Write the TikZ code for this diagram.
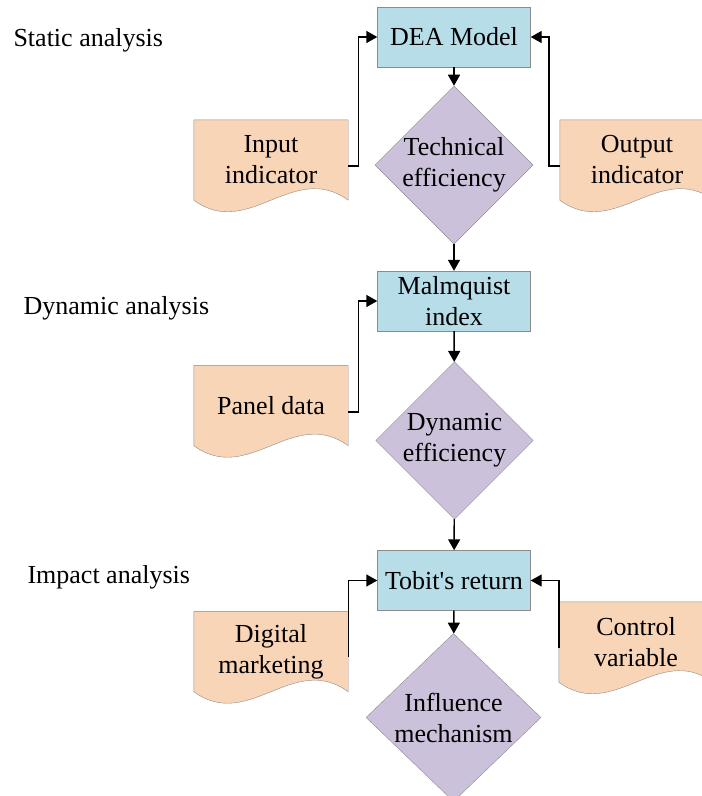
\documentclass[tikz,border=0pt]{standalone}
\usepackage{fontspec}
\setmainfont{Liberation Serif}
\newfontfamily\timesfont{Liberation Serif}
\usetikzlibrary{arrows.meta,positioning,shapes.geometric,backgrounds}
\definecolor{cblue}{HTML}{B7DDE8}
\definecolor{cviolet}{HTML}{CCC1DA}
\definecolor{cpeach}{HTML}{F9D5B8}
\definecolor{cedge}{HTML}{8C8C8C}
\tikzset{>={Triangle[length=11pt,width=12pt]},
  model/.style={draw=cedge,fill=cblue,minimum width=153pt,minimum height=60pt,inner sep=0pt,align=center},
  result/.style={diamond,draw=cedge,fill=cviolet,inner sep=0pt,align=center},
  datadoc/.style={minimum width=154pt,minimum height=80pt,inner sep=0pt,align=center},
  stage/.style={anchor=west},
  flow/.style={->,line width=1.4pt}}

\begin{document}
\begin{tikzpicture}[x=1pt,y=-1pt,font=\timesfont\fontsize{26}{31}\selectfont]
\useasboundingbox (0,0) rectangle (702,796);

% ============ Static analysis ============
\node[stage] (lstat) at (10,40) {Static analysis};
\node[model] (dea) at (454,37) {DEA Model};
\node[result,minimum width=154pt,minimum height=155pt] (tech) at (454,165) {Technical\\efficiency};
\node[datadoc] (inp) at (271,160) {Input\\indicator};
\node[datadoc] (outp) at (637,160) {Output\\indicator};

% ============ Dynamic analysis ============
\node[stage] (ldyn) at (20,308) {Dynamic analysis};
\node[model] (malm) at (454,301) {Malmquist\\index};
\node[result,minimum width=155pt,minimum height=149pt] (dyn) at (454.5,440.5) {Dynamic\\efficiency};
\node[datadoc] (panel) at (271,405.5) {Panel data};

% ============ Impact analysis ============
\node[stage] (limp) at (24,577) {Impact analysis};
\node[model] (tobit) at (454,580.5) {Tobit's return};
\node[result,minimum width=175pt,minimum height=155pt] (infl) at (453.5,717.5) {Influence\\mechanism};
\node[datadoc] (digi) at (271,651.5) {Digital\\marketing};
\node[datadoc] (ctrl) at (636,642) {Control\\variable};

% document outlines behind the texts
\begin{scope}[on background layer]
  \foreach \n in {inp,outp,panel,digi,ctrl}
    \filldraw[draw=cedge,fill=cpeach] (\n.north west) -- (\n.north east) -- (\n.south east)
      .. controls +(-55,-40) and +(55,40) .. (\n.south west) -- cycle;
\end{scope}

% main chain
\draw[flow] (dea) -- (tech);
\draw[flow] (tech) -- (malm);
\draw[flow] (malm) -- (dyn);
\draw[flow] (dyn) -- (tobit);
\draw[flow] (tobit) -- (infl);

% side inputs
\draw[flow] ([yshift=-6pt]inp.east) -- ++(10,0) |- (dea.west);
\draw[flow] ([yshift=-6pt]outp.west) -- ++(-11,0) |- (dea.east);
\draw[flow] ([yshift=-6.5pt]panel.east) -- ++(10,0) |- (malm.west);
\draw[flow] ([yshift=-5.5pt]digi.east) |- (tobit.west);
\draw[flow] ([yshift=-6pt]ctrl.west) |- (tobit.east);

\end{tikzpicture}
\end{document}
